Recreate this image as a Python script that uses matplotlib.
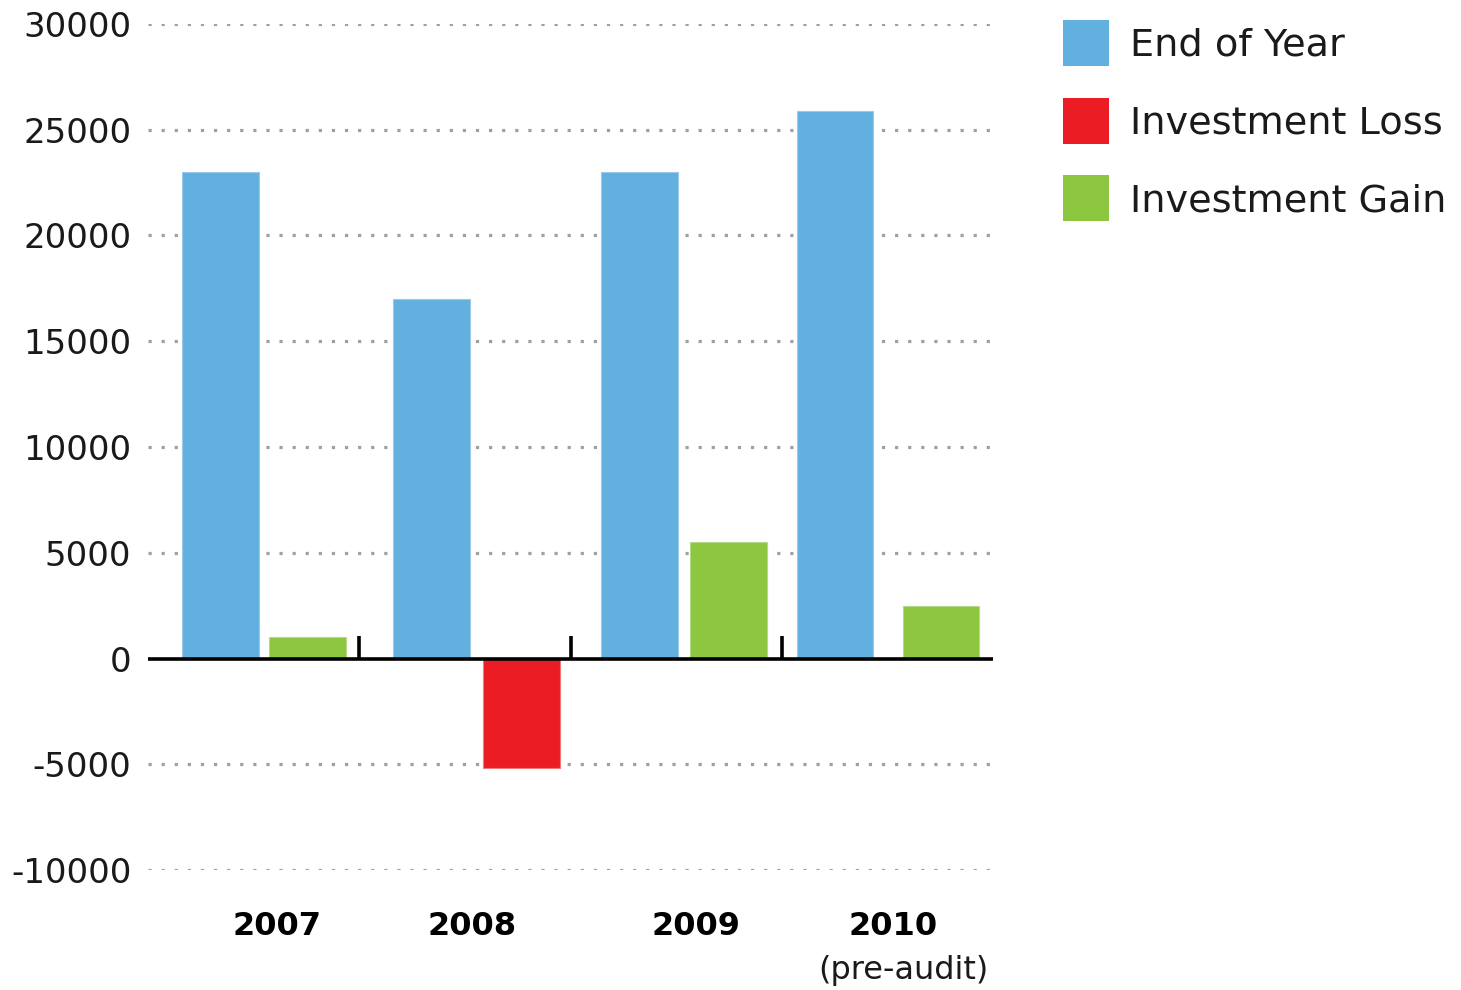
import matplotlib
matplotlib.use("Agg")
import matplotlib.pyplot as plt
from matplotlib.patches import Rectangle
import numpy as np

# ---- data ----
years = ["2007", "2008", "2009", "2010"]
year_notes = ["", "", "", "(pre-audit)"]
end_of_year = [23000, 17000, 23000, 25900]
investment_change = [1000, -5200, 5500, 2500]
series_names = ["End of Year", "Investment Loss", "Investment Gain"]
colors = ["#62B0E0", "#EC1C24", "#8DC63F"]
yticks = [-10000, -5000, 0, 5000, 10000, 15000, 20000, 25000, 30000]

# ---- layout (positions within each group, in group units) ----
blue_off = [0.343, 0.344, 0.327, 0.252]
second_off = [0.753, 0.770, 0.750, 0.754]
label_off = [0.61, 0.534, 0.594, 0.527]
note_off = [0.61, 0.534, 0.594, 0.574]
bar_w = 0.364

plt.rcParams['font.family'] = ['DejaVu Sans']
W, H = 1461, 990
fig = plt.figure(figsize=(W / 100, H / 100), dpi=100)
ax = fig.add_axes([148 / W, 1 - 870 / H, (993 - 148) / W, (870 - 24) / H])
ax.set_xlim(0, 4)
ax.set_ylim(-10000, 30000)

# grid lines
for v in yticks:
    if v != 0:
        ax.axhline(v, color="#a0a0a0", lw=2.3, linestyle=(0, (1, 3.1)), zorder=0)

x = np.arange(len(years))
ax.bar(x + np.array(blue_off), end_of_year, width=bar_w, color=colors[0],
       edgecolor="#9cc9e8", linewidth=0.8, zorder=2)
chg_colors = [colors[1] if v < 0 else colors[2] for v in investment_change]
chg_edges = ["#f07a7e" if v < 0 else "#b5d98a" for v in investment_change]
ax.bar(x + np.array(second_off), investment_change, width=bar_w, color=chg_colors,
       edgecolor=chg_edges, linewidth=0.8, zorder=2)

# zero line with group separators
ax.axhline(0, color="black", lw=2.6, zorder=3)
ax.vlines([1, 2, 3], 0, 1050, color="black", lw=2.6, zorder=3)

for s in ax.spines.values():
    s.set_visible(False)
ax.set_yticks(yticks)
ax.set_yticklabels([str(v) for v in yticks], fontsize=24.5, color="#1a1a1a")
ax.tick_params(axis="y", length=0, pad=12)
ax.set_xticks([])

for i, (yr, note) in enumerate(zip(years, year_notes)):
    ax.text(i + label_off[i], -12650, yr, ha="center", va="center",
            fontsize=23, fontweight="bold", color="black")
    if note:
        ax.text(i + note_off[i], -14750, note, ha="center", va="center",
                fontsize=23, color="#1a1a1a", clip_on=False)

# legend drawn in figure pixel space
sq = 46
row_tops = [20, 98, 175]
for name, c, top in zip(series_names, colors, row_tops):
    fig.add_artist(Rectangle((1063 / W, 1 - (top + sq) / H), sq / W, sq / H,
                             transform=fig.transFigure, facecolor=c,
                             edgecolor="none"))
    fig.text(1130 / W, 1 - (top + sq / 2 - 1) / H, name, ha="left",
             va="center_baseline", fontsize=27.5, color="#1a1a1a")

fig.savefig("out.png", dpi=100)
